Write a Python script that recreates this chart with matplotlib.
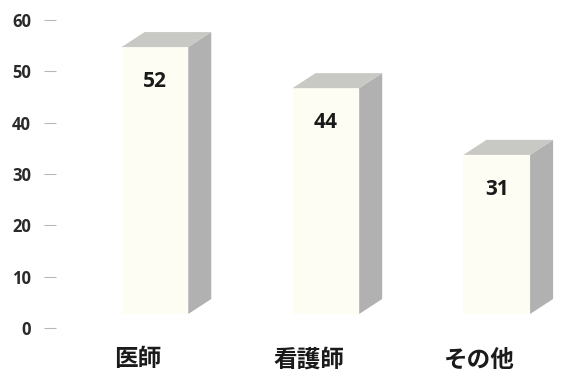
import matplotlib.pyplot as plt
import matplotlib.transforms as mtransforms
from matplotlib.patches import Polygon, Rectangle

plt.rcParams['font.family'] = ['Noto Sans CJK JP', 'DejaVu Sans']

# 職種ごとの人数
categories = ['医師', '看護師', 'その他']
values = [52, 44, 31]
yticks = [0, 10, 20, 30, 40, 50, 60]

fig = plt.figure(figsize=(5.65, 3.77), dpi=100)
ax = fig.add_axes([50 / 565, (377 - 328) / 377, 510 / 565, 308 / 377])
ax.set_xlim(-0.614, 2.37)
ax.set_ylim(0, 60)

# 3D風の奥行き（ピクセル）
dx_px, dy_px = 23, 15
lift_px = 14
bar_w = 0.39

front_tr = mtransforms.offset_copy(ax.transData, fig=fig, x=0, y=lift_px, units='dots')
back_tr = mtransforms.offset_copy(ax.transData, fig=fig, x=dx_px, y=lift_px + dy_px, units='dots')
label_tr = front_tr + mtransforms.ScaledTranslation(0, -0.24, fig.dpi_scale_trans)

for i, v in enumerate(values):
    x0, x1 = i - bar_w / 2, i + bar_w / 2
    # 側面と上面は画素座標で組み立てる
    fb = front_tr.transform((x1, 0))
    ft = front_tr.transform((x1, v))
    fl = front_tr.transform((x0, v))
    bb = back_tr.transform((x1, 0))
    bt = back_tr.transform((x1, v))
    bl = back_tr.transform((x0, v))
    side = Polygon([fb, bb, bt, ft], closed=True, transform=None,
                   facecolor='#b1b1b1', edgecolor='none', zorder=2)
    top = Polygon([fl, ft, bt, bl], closed=True, transform=None,
                  facecolor='#c8c8c5', edgecolor='none', zorder=2)
    fig.patches.extend([side, top])
    ax.add_patch(Rectangle((x0, 0), bar_w, v, transform=front_tr,
                           facecolor='#fefdf3', edgecolor='none', zorder=3))
    ax.text(i, v, str(v), transform=label_tr, ha='center', va='top',
            fontsize=15, fontweight='bold', color='#1a1a1a', zorder=4,
            family=['Open Sans', 'DejaVu Sans'])

ax.set_yticks(yticks)
ax.set_yticklabels([str(t) for t in yticks], fontsize=12, fontweight='bold',
                   color='#2a2a2a', family=['Open Sans', 'DejaVu Sans'])
ax.tick_params(axis='y', direction='inout', length=9, width=0.8, color='#b8b8b8', pad=9)
ax.set_xticks(range(len(categories)))
ax.set_xticklabels(categories, fontsize=17, fontweight='bold', color='#1a1a1a')
ax.tick_params(axis='x', length=0, pad=14)
shift = mtransforms.ScaledTranslation(-0.17, 0, fig.dpi_scale_trans)
for lbl in ax.get_xticklabels():
    lbl.set_transform(lbl.get_transform() + shift)
for sp in ax.spines.values():
    sp.set_visible(False)
ax.patch.set_alpha(0)

fig.savefig('out.png', dpi=100)
